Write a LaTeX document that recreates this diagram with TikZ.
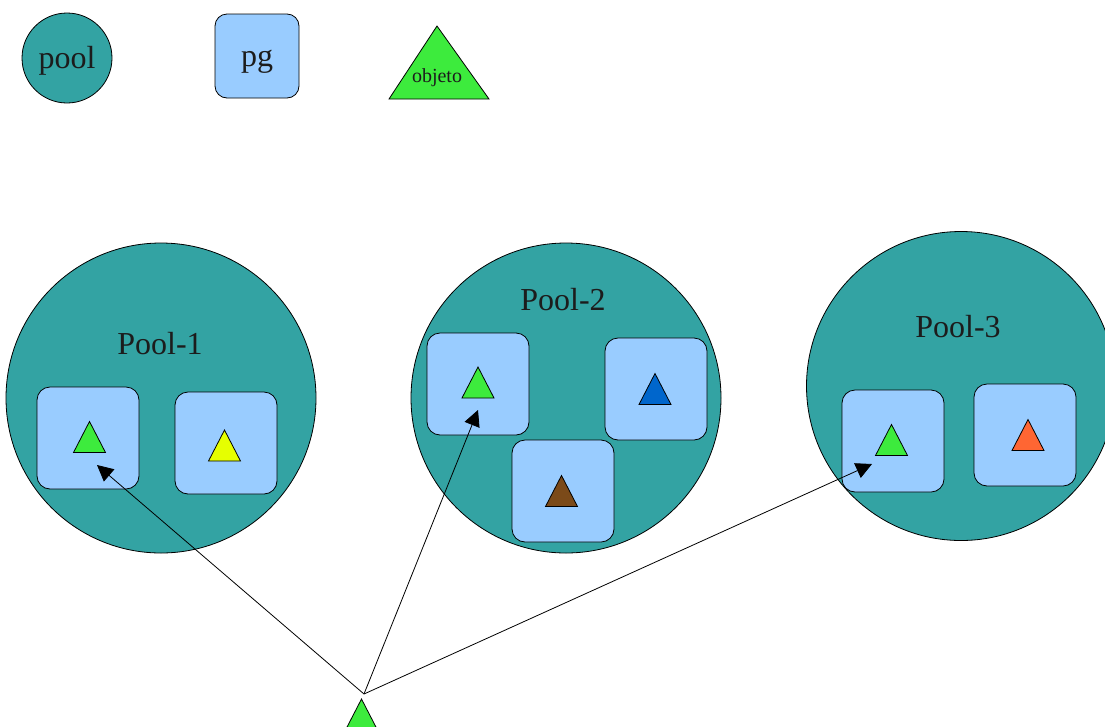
\documentclass[tikz,border=0pt]{standalone}
\usepackage{fontspec}
\setmainfont{Liberation Serif}
\usetikzlibrary{arrows.meta}
\definecolor{poolc}{HTML}{33A3A3}
\definecolor{pgc}{HTML}{99CCFF}
\definecolor{grn}{HTML}{3DEB3D}
\definecolor{ylw}{HTML}{E6FF00}
\definecolor{blu}{HTML}{0066CC}
\definecolor{brn}{HTML}{7B4A19}
\definecolor{org}{HTML}{FF6633}
\definecolor{txt}{HTML}{1C1C1C}
\newcommand\objtri[3]{\draw[line width=0.8pt,fill=#3,line join=miter] (#1,#2) -- ++(-16,31) -- ++(32,0) -- cycle;}
\begin{document}
\begin{tikzpicture}[x=1pt,y=-1pt,
  poolnode/.style={circle,draw=black,line width=0.8pt,fill=poolc,inner sep=0pt},
  pgnode/.style={rectangle,rounded corners=13pt,draw=black,line width=0.8pt,fill=pgc,inner sep=0pt,minimum width=102pt,minimum height=102pt},
  bigtext/.style={text=txt,font=\fontsize{32}{38}\selectfont,inner sep=0pt},
  conn/.style={line width=0.8pt,-{Triangle[length=16pt,width=16pt]}}]
\useasboundingbox (0,0) rectangle (1105,726);
\clip (0,0) rectangle (1105,726);
% legend
\node[poolnode,minimum size=90pt] (lpool) at (67,58) {};
\node[bigtext,anchor=base] (lpooltxt) at (67,68.5) {pool};
\node[pgnode,minimum width=84pt,minimum height=84pt,rounded corners=12pt] (lpg) at (257,56) {};
\node[bigtext,anchor=base] (lpgtxt) at (257,66.5) {pg};
\draw[line width=0.8pt,fill=grn] (437,26) -- (489,99) -- (389,99) -- cycle;
\node[text=txt,font=\fontsize{20}{24}\selectfont,inner sep=0pt,anchor=base] (lobj) at (437,82) {objeto};
% pools
\node[poolnode,minimum size=310pt] (pool1) at (161,398) {};
\node[poolnode,minimum size=310pt] (pool2) at (566,398) {};
\node[poolnode,minimum size=309pt] (pool3) at (961,386) {};
\node[bigtext] (p1t) at (160,344) {Pool-1};
\node[bigtext] (p2t) at (563,300) {Pool-2};
\node[bigtext] (p3t) at (958,327) {Pool-3};
% pgs
\node[pgnode] (pg11) at (88,438) {};
\node[pgnode] (pg12) at (226,443) {};
\node[pgnode] (pg21) at (478,384) {};
\node[pgnode] (pg22) at (656,389) {};
\node[pgnode] (pg23) at (563,491) {};
\node[pgnode] (pg31) at (893,441) {};
\node[pgnode] (pg32) at (1025,435) {};
% objects
\objtri{89.5}{421.5}{grn}
\objtri{224.5}{430}{ylw}
\objtri{478}{367}{grn}
\objtri{655}{373.5}{blu}
\objtri{561.5}{475.5}{brn}
\objtri{891.5}{424.5}{grn}
\objtri{1028}{419.5}{org}
\objtri{361.5}{699}{grn}
% connectors
\coordinate (src) at (364,694);
\coordinate (t1) at (97,465);
\coordinate (t2) at (478,410);
\coordinate (t3) at (872,464);
\draw[conn] (src) -- (t1);
\draw[conn] (src) -- (t2);
\draw[conn] (src) -- (t3);
\end{tikzpicture}
\end{document}
